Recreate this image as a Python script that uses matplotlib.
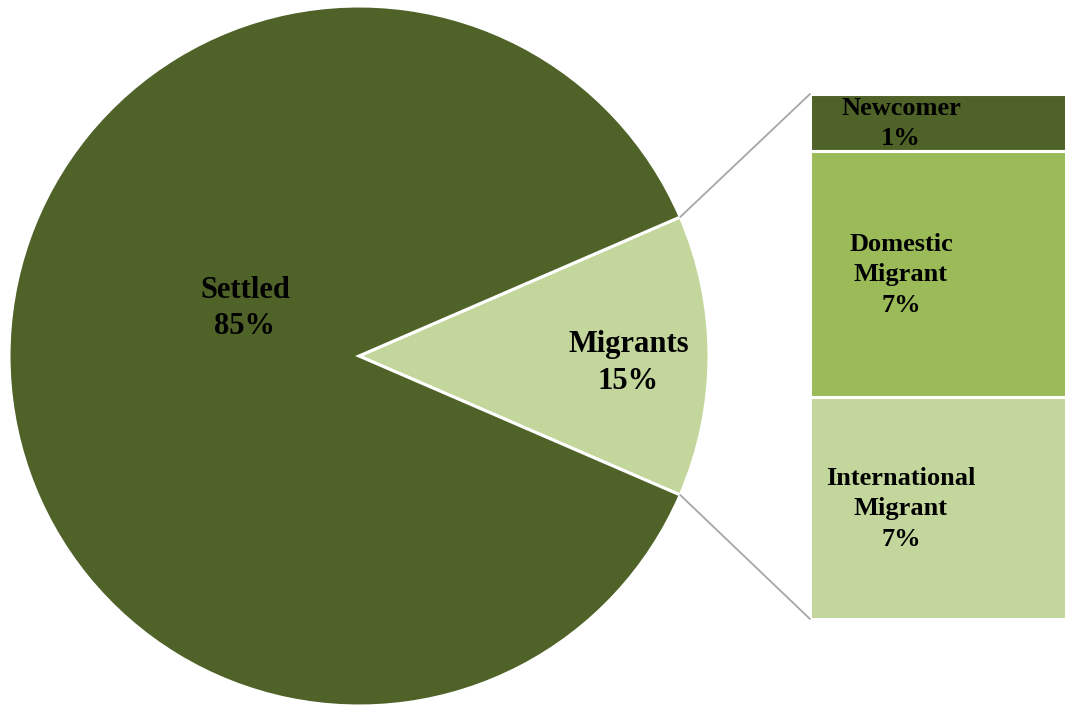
import matplotlib.pyplot as plt
import numpy as np
from matplotlib.patches import ConnectionPatch

# main pie: shares as drawn (labels carry the published rounded percentages)
pie_names = ["Migrants", "Settled"]
pie_values = [13.0, 87.0]
pie_labels = ["Migrants\n15%", "Settled\n85%"]

# breakdown of the migrants slice, top to bottom
sub_names = ["Newcomer", "Domestic\nMigrant", "International\nMigrant"]
sub_values = [1.4, 6.1, 5.5]
sub_labels = ["1%", "7%", "7%"]

dark = "#4F6228"
mid = "#9BBB59"
light = "#C3D69B"
sub_colors = [dark, mid, light]

plt.rcParams["font.family"] = ["Liberation Serif", "DejaVu Serif"]

W, H = 1065, 706
fig = plt.figure(figsize=(W / 100, H / 100), dpi=100)

# pie axes
ax_pie = fig.add_axes([9 / W, 0 / H, 700 / W, 700 / H])
migr_angle = 360 * pie_values[0] / sum(pie_values)
wedges, _ = ax_pie.pie(
    pie_values,
    colors=[light, dark],
    startangle=-migr_angle / 2,
    counterclock=True,
    wedgeprops=dict(edgecolor="white", linewidth=2.2),
)
ax_pie.set_xlim(-1, 1)
ax_pie.set_ylim(-1, 1)
ax_pie.set_aspect("equal")
ax_pie.axis("off")

ax_pie.text(0.77, -0.02, pie_labels[0], ha="center", va="center",
            fontsize=22, fontweight="bold", linespacing=1.35)
ax_pie.text(-0.326, 0.135, pie_labels[1], ha="center", va="center",
            fontsize=22, fontweight="bold", linespacing=1.3)

# bar of pie
ax_bar = fig.add_axes([810 / W, (H - 619) / H, 260 / W, 525 / H])
total = sum(sub_values)
top = total
for name, val, lab, col in zip(sub_names, sub_values, sub_labels, sub_colors):
    ax_bar.bar(0, val, bottom=top - val, width=1.0, color=col,
               edgecolor="white", linewidth=2.2)
    ax_bar.text(0.35, (top - val / 2) / total - 0.002, f"{name}\n{lab}",
                transform=ax_bar.transAxes, ha="center", va="center",
                fontsize=19, fontweight="bold", linespacing=1.42)
    top -= val
ax_bar.set_xlim(-0.5, 0.5)
ax_bar.set_ylim(0, total)
ax_bar.axis("off")

# connector lines from slice edges to bar corners
half = np.deg2rad(migr_angle / 2)
for sign, ycorner in [(1, total), (-1, 0)]:
    con = ConnectionPatch(
        xyA=(np.cos(half), sign * np.sin(half)), coordsA=ax_pie.transData,
        xyB=(-0.5, ycorner), coordsB=ax_bar.transData,
        color="#A6A6A6", linewidth=1.3,
    )
    fig.add_artist(con)

fig.savefig("out.png", dpi=100)
